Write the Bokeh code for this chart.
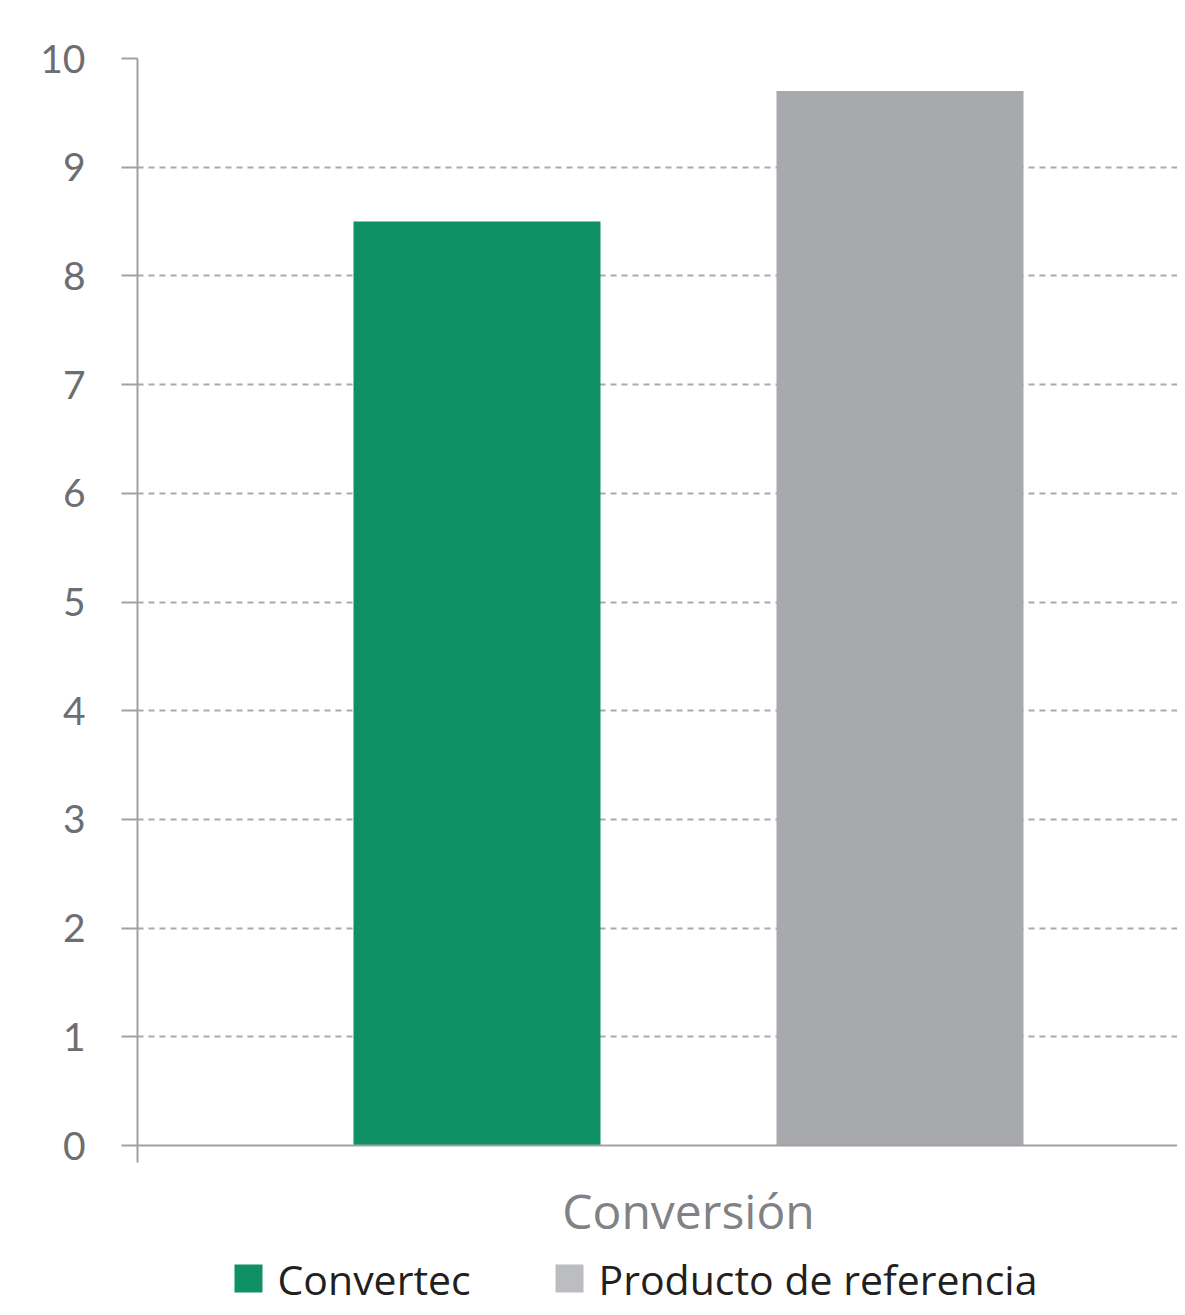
from bokeh.plotting import figure
from bokeh.models import Range1d, FixedTicker, ColumnDataSource
from bokeh.layouts import column
from bokeh.core.properties import value
from bokeh.embed import file_html
from bokeh.resources import INLINE

# ---- data ----
category = "Conversión"
series = ["Convertec", "Producto de referencia"]
values = [8.5, 9.7]
colors = ["#0F9065", "#A8A9AD"]
legend_colors = ["#0F9065", "#BCBDC0"]
y_ticks = [0, 1, 2, 3, 4, 5, 6, 7, 8, 9, 10]

# ---- layout constants (pixels / data units) ----
W, H_TOTAL = 1177, 1307
LEFT, TOP = 137, 58
FRAME_BOTTOM = 1145
BOTTOM = 100
H_MAIN = FRAME_BOTTOM + BOTTOM
H_LEG = H_TOTAL - H_MAIN
frame_w = W - LEFT
px_per_unit = 247.0          # one bar width == 1 data unit
group_center_px = 551.0
x_start = -group_center_px / px_per_unit
x_end = (frame_w - group_center_px) / px_per_unit
offsets = [-211.5 / px_per_unit, 211.5 / px_per_unit]

p = figure(width=W, height=H_MAIN, output_backend="svg", toolbar_location=None,
           x_range=Range1d(x_start, x_end), y_range=Range1d(0, 10),
           min_border_left=LEFT, min_border_top=TOP, min_border_bottom=BOTTOM,
           min_border_right=0)
p.outline_line_color = None
p.background_fill_color = "white"
p.border_fill_color = "white"

for name, v, c, off in zip(series, values, colors, offsets):
    src = ColumnDataSource(dict(x=[off], top=[v]))
    p.vbar(x="x", top="top", bottom=0, width=1.0, source=src,
           fill_color=c, line_color=None)

# grid
p.xgrid.grid_line_color = None
p.ygrid.ticker = FixedTicker(ticks=y_ticks)
p.ygrid.grid_line_color = "#A8A9AC"
p.ygrid.grid_line_width = 2
p.ygrid.grid_line_dash = "6 5"
p.ygrid.level = "underlay"

axis_col = "#A0A1A4"
# y axis
ya = p.yaxis[0]
ya.ticker = FixedTicker(ticks=y_ticks)
ya.axis_line_color = axis_col
ya.axis_line_width = 2
ya.major_tick_line_color = axis_col
ya.major_tick_line_width = 2
ya.major_tick_out = 16
ya.major_tick_in = 0
ya.minor_tick_line_color = None
ya.major_label_standoff = 36
ya.major_label_text_font = "Lato"
ya.major_label_text_font_size = "39px"
ya.major_label_text_color = "#6D6E71"

# x axis
xa = p.xaxis[0]
xa.ticker = FixedTicker(ticks=[0], minor_ticks=[x_start])
xa.major_label_overrides = {0: category}
xa.axis_line_color = axis_col
xa.axis_line_width = 2
xa.major_tick_out = 0
xa.major_tick_in = 0
xa.minor_tick_line_color = axis_col
xa.minor_tick_line_width = 2
xa.minor_tick_out = 17
xa.minor_tick_in = 0
xa.major_label_standoff = 15
xa.major_label_text_font = "Open Sans"
xa.major_label_text_font_size = "48px"
xa.major_label_text_color = "#808285"

# ---- legend strip (separate figure; its frame is aligned with the main frame) ----
leg_x = [234, 555]          # left edge of each swatch (page px)
SW = 28                     # swatch size
swatch_top = 1264 - H_MAIN  # px from top of the strip
lg = figure(width=W, height=H_LEG, output_backend="svg", toolbar_location=None,
            x_range=Range1d(LEFT, W), y_range=Range1d(H_LEG, 0),
            x_axis_location=None, y_axis_location=None,
            min_border_left=LEFT, min_border_right=0,
            min_border_top=0, min_border_bottom=0)
lg.outline_line_color = None
lg.grid.visible = False
lsrc = ColumnDataSource(dict(
    x=[x + SW / 2 for x in leg_x],
    y=[swatch_top + SW / 2] * len(series),
    tx=[x + SW + 15 for x in leg_x],
    label=series,
    color=legend_colors,
))
lg.rect(x="x", y="y", width=SW, height=SW, source=lsrc,
        fill_color="color", line_color=None)
lg.text(x="tx", y="y", text="label", source=lsrc,
        text_font=value("Open Sans"), text_font_size="41px",
        text_color="#231F20", text_baseline="middle", text_align="left")

layout = column(p, lg, spacing=0)
open("out.html", "w").write(file_html(layout, INLINE))
